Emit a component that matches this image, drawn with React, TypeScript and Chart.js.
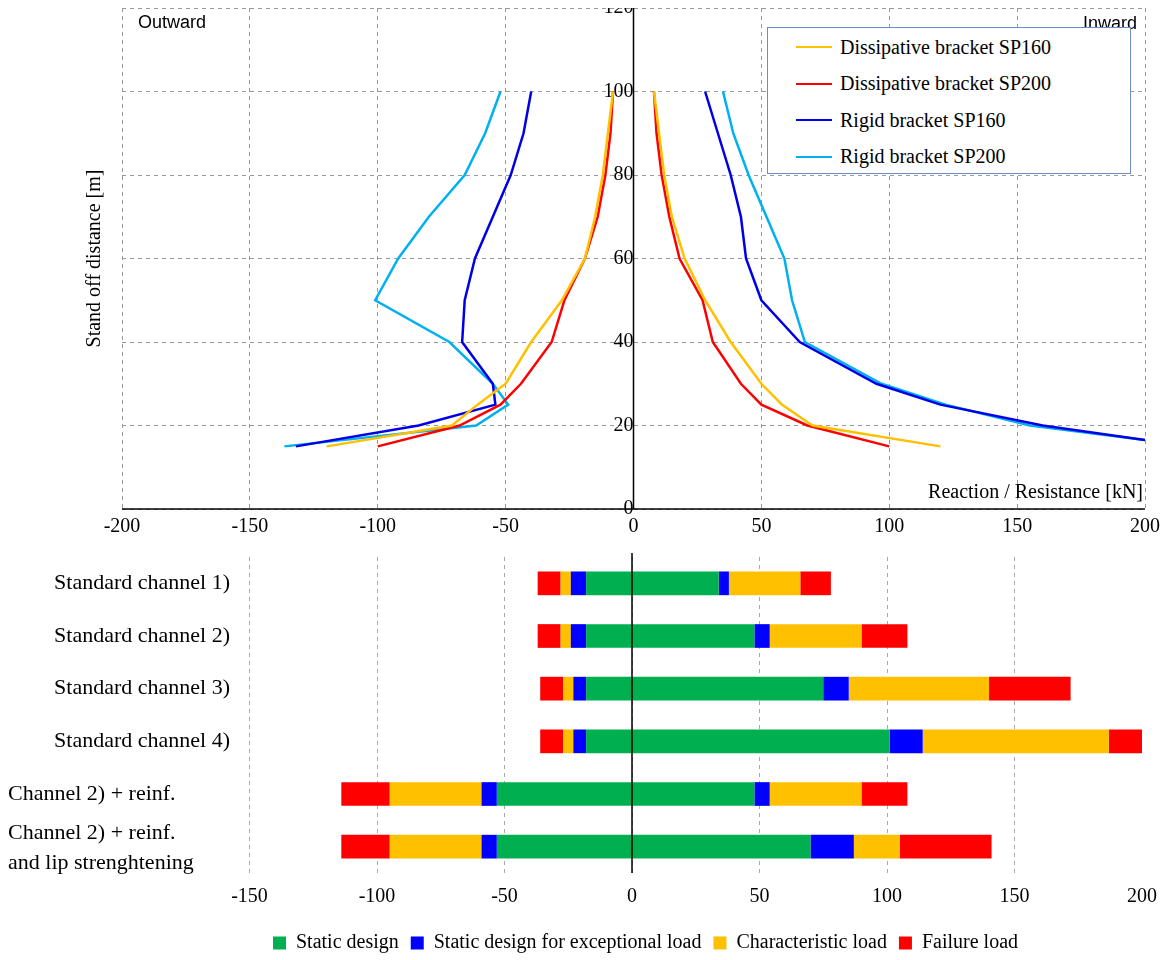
import React, { useEffect, useRef } from "react";
import { Chart, registerables } from "chart.js";
Chart.register(...registerables);

const SERIF = "'Liberation Serif', 'Times New Roman', serif";
const SANS = "'Liberation Sans', Arial, sans-serif";

const seriesNames = ["Dissipative bracket SP160", "Dissipative bracket SP200", "Rigid bracket SP160", "Rigid bracket SP200"];
const seriesColors = ["#FFC000", "#FF0000", "#0000E6", "#00B0F0"];
const yLevels = [100, 90, 80, 70, 60, 50, 40, 30, 25, 20, 15];
const sp160DissOut = [-8, -10, -12, -15, -19, -28, -40, -50, -61, -71, -120];
const sp160DissIn = [8, 10, 12, 15, 20, 28, 38, 50, 58, 70, 120];
const sp200DissOut = [-8, -9, -11, -14, -19, -27, -32, -44, -52, -68, -100];
const sp200DissIn = [8, 9, 11, 14, 18, 27, 31, 42, 50, 68, 100];
const yLevelsRigid = [100, 90, 80, 70, 60, 50, 40, 30, 25, 20, 15];
const sp160RigidOut = [-40, -43, -48, -55, -62, -66, -67, -55, -54, -84, -132];
const sp160RigidIn = [28, 33, 38, 42, 44, 50, 65, 95, 120, 160, 200];
const sp200RigidOut = [-52, -58, -66, -80, -92, -101, -72, -55, -49, -61.5, -136.5];
const sp200RigidIn = [35, 39, 45, 52, 59, 62, 67, 97, 122, 155, 200];
const sp200RigidInY = [100, 90, 80, 70, 60, 50, 40, 30, 25, 20, 16.5];
const sp160RigidInY = [100, 90, 80, 70, 60, 50, 40, 30, 25, 20, 16.5];

const categories = ["Standard channel 1)", "Standard channel 2)", "Standard channel 3)", "Standard channel 4)", "Channel 2) + reinf.", ["Channel 2) + reinf.", "and lip strenghtening"]];
const barNames = ["Static design", "Static design for exceptional load", "Characteristic load", "Failure load"];
const barColors = ["#00B050", "#0000FF", "#FFC000", "#FF0000"];
// left side bounds: red start, yellow start, blue start, green start
const leftRed = [-37, -37, -36, -36, -114, -114];
const leftYellow = [-28, -28, -27, -27, -95, -95];
const leftBlue = [-24, -24, -23, -23, -59, -59];
const leftGreen = [-18, -18, -18, -18, -53, -53];
// right side bounds: green end, blue end, yellow end, red end
const rightGreen = [34, 48, 75, 101, 48, 70];
const rightBlue = [38, 54, 85, 114, 54, 87];
const rightYellow = [66, 90, 140, 187, 90, 105];
const rightRed = [78, 108, 172, 200, 108, 141];

function pts(xs: number[], ys: number[]) {
  return xs.map((x, i) => ({ x, y: ys[i] }));
}

export default function App() {
  const topRef = useRef<HTMLCanvasElement>(null);
  const botRef = useRef<HTMLCanvasElement>(null);
  useEffect(() => {
    const lineSets = [
      [sp160DissOut, yLevels, sp160DissIn, yLevels],
      [sp200DissOut, yLevels, sp200DissIn, yLevels],
      [sp160RigidOut, yLevelsRigid, sp160RigidIn, sp160RigidInY],
      [sp200RigidOut, yLevelsRigid, sp200RigidIn, sp200RigidInY],
    ];
    const datasets: any[] = [];
    lineSets.forEach((s, i) => {
      datasets.push({ label: seriesNames[i], data: pts(s[0], s[1]), borderColor: seriesColors[i], borderWidth: 2.5, pointRadius: 0, fill: false, tension: 0 });
      datasets.push({ label: "_" + seriesNames[i], data: pts(s[2], s[3]), borderColor: seriesColors[i], borderWidth: 2.5, pointRadius: 0, fill: false, tension: 0 });
    });
    const topPlugin = {
      id: "topText",
      afterDraw(c: any) {
        const ctx = c.ctx; const a = c.chartArea; const x0 = c.scales.x.getPixelForValue(0);
        ctx.save();
        ctx.strokeStyle = "#000"; ctx.lineWidth = 1.5; ctx.beginPath(); ctx.moveTo(x0, a.top); ctx.lineTo(x0, a.bottom); ctx.stroke();
        ctx.beginPath(); ctx.moveTo(a.left, a.bottom); ctx.lineTo(a.right, a.bottom); ctx.stroke();
        ctx.fillStyle = "#000"; ctx.font = "18px " + SANS; ctx.textBaseline = "middle";
        ctx.textAlign = "left"; ctx.fillText("Outward", a.left + 16, a.top + 15);
        ctx.textAlign = "right"; ctx.fillText("Inward", a.right - 8, a.top + 16);
        ctx.font = "20px " + SERIF; ctx.fillText("Reaction / Resistance [kN]", a.right - 2, a.bottom - 16);
        ctx.translate(a.left - 27, (a.top + a.bottom) / 2); ctx.rotate(-Math.PI / 2);
        ctx.textAlign = "center"; ctx.fillText("Stand off distance [m]", 0, 0);
        ctx.restore();
      },
    };
    const top = new Chart(topRef.current!, {
      type: "line",
      data: { datasets },
      plugins: [topPlugin],
      options: {
        animation: false, responsive: false, maintainAspectRatio: false,
        layout: { padding: { left: 114, right: 3, top: 0 } },
        plugins: { legend: { display: false }, tooltip: { enabled: false } },
        scales: {
          x: { type: "linear", min: -200, max: 200, ticks: { stepSize: 50, color: "#000", font: { family: SERIF, size: 20 }, padding: 6 }, grid: { color: "#999", tickLength: 0 }, border: { dash: [4, 4], display: false } },
          y: { type: "linear", min: 0, max: 120, position: { x: 0 } as any, ticks: { stepSize: 20, color: "#000", font: { family: SERIF, size: 20 }, padding: 4 }, grid: { color: "#999", tickLength: 0 }, border: { dash: [4, 4], display: false } },
        },
      },
    } as any);

    const bds: any[] = [];
    const mk = (label: string, color: string, a: number[], b: number[]) =>
      bds.push({ label, data: a.map((v, i) => [v, b[i]]), backgroundColor: color, borderWidth: 0, grouped: false, barPercentage: 0.45, categoryPercentage: 1 });
    mk(barNames[0], barColors[0], leftGreen, rightGreen);
    mk(barNames[1], barColors[1], leftBlue, leftGreen);
    mk("_b2", barColors[1], rightGreen, rightBlue);
    mk(barNames[2], barColors[2], leftYellow, leftBlue);
    mk("_y2", barColors[2], rightBlue, rightYellow);
    mk(barNames[3], barColors[3], leftRed, leftYellow);
    mk("_r2", barColors[3], rightYellow, rightRed);
    const botPlugin = {
      id: "botText",
      afterDraw(c: any) {
        const ctx = c.ctx; const a = c.chartArea; const x0 = c.scales.x.getPixelForValue(0);
        ctx.save();
        ctx.strokeStyle = "#000"; ctx.lineWidth = 1.5; ctx.beginPath(); ctx.moveTo(x0, a.top - 25); ctx.lineTo(x0, a.bottom); ctx.stroke();
        ctx.fillStyle = "#000"; ctx.font = "22px " + SERIF; ctx.textBaseline = "middle";
        categories.forEach((cat, i) => {
          const y = c.scales.y.getPixelForValue(i);
          if (Array.isArray(cat)) {
            ctx.textAlign = "left";
            ctx.fillText(cat[0], 0, y - 13); ctx.fillText(cat[1], 0, y + 17);
          } else if (i < 4) {
            ctx.textAlign = "right"; ctx.fillText(cat, 222, y);
          } else {
            ctx.textAlign = "left"; ctx.fillText(cat, 0, y);
          }
        });
        ctx.restore();
      },
    };
    const bot = new Chart(botRef.current!, {
      type: "bar",
      data: { labels: categories.map((c) => (Array.isArray(c) ? c.join(" ") : c)), datasets: bds },
      plugins: [botPlugin],
      options: {
        indexAxis: "y", animation: false, responsive: false, maintainAspectRatio: false,
        layout: { padding: { left: 114, right: 0, top: 4 } },
        plugins: {
          tooltip: { enabled: false },
          legend: { position: "bottom", labels: { boxWidth: 13, boxHeight: 13, padding: 12, color: "#000", font: { family: SERIF, size: 20 }, filter: (it: any) => !it.text.startsWith("_") } },
        },
        scales: {
          x: { type: "linear", min: -200, max: 200, ticks: { stepSize: 50, color: "#000", font: { family: SERIF, size: 20 }, padding: 12, callback: (v: any) => (v === -200 ? "" : v) }, grid: { color: (ctx: any) => (ctx.tick && (ctx.tick.value === -200 || ctx.tick.value === 200) ? "transparent" : "#aaa"), tickLength: 0 }, border: { dash: [4, 4], display: false } },
          y: { type: "category", display: false },
        },
      },
    } as any);
    return () => { top.destroy(); bot.destroy(); };
  }, []);

  return (
    <div style={{ position: "relative", width: 1166 }}>
      <canvas ref={topRef} width={1158} height={553} style={{ display: "block", marginTop: -16 }} />
      <canvas ref={botRef} width={1161} height={410} style={{ display: "block", marginTop: 8 }} />
      <div style={{ position: "absolute", left: 759, top: 35, width: 364, height: 147, border: "1px solid #6b8fc4", background: "#fff", fontFamily: SERIF, fontSize: 20, boxSizing: "border-box", paddingTop: 1 }}>
        {seriesNames.map((n, i) => (
          <div key={n} style={{ display: "flex", alignItems: "center", height: 36.5 }}>
            <div style={{ width: 36, height: 2, background: seriesColors[i], marginLeft: 28, marginRight: 8 }} />
            <span>{n}</span>
          </div>
        ))}
      </div>
    </div>
  );
}
